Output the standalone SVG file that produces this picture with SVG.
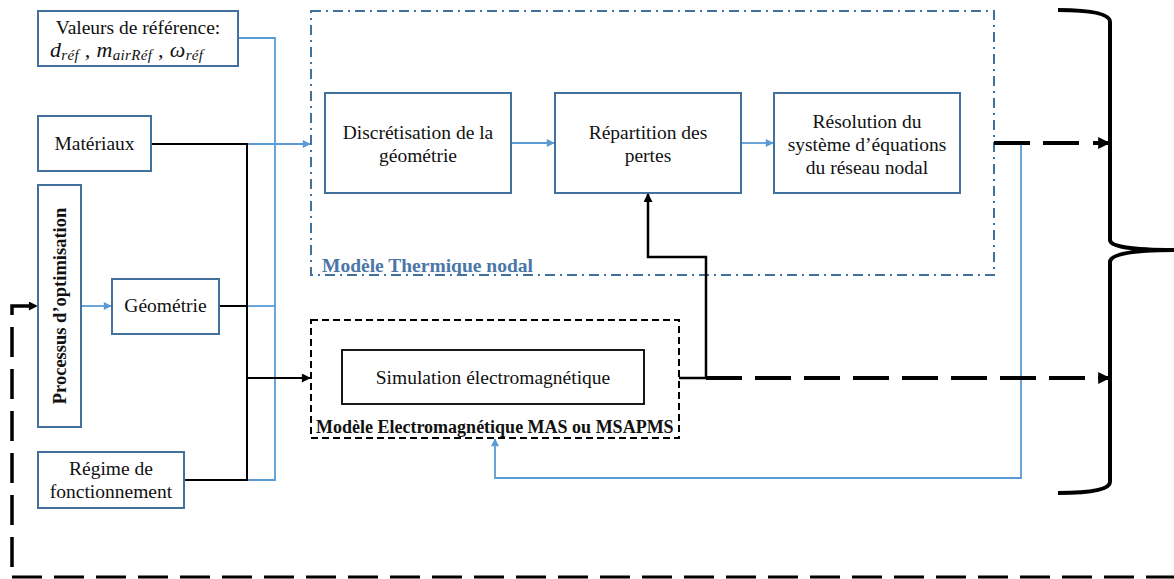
<svg xmlns="http://www.w3.org/2000/svg" width="1174" height="579" viewBox="0 0 1174 579">
<defs>
<style>
.box{fill:#fff;stroke:#41719c;stroke-width:2}
.t{font-family:"Liberation Serif","Times New Roman",serif;font-size:19.5px;fill:#111;text-anchor:middle}
.b{font-weight:bold}
.m{font-family:"Liberation Serif",serif;font-style:italic;font-size:22px;fill:#111}
.s{font-size:15px}
.blue{fill:none;stroke:#5b9bd5;stroke-width:1.8}
.blk{fill:none;stroke:#000;stroke-width:2}
.thick{fill:none;stroke:#000}
</style>
<marker id="ab" viewBox="0 0 10 10" refX="9" refY="5" markerWidth="9" markerHeight="8" orient="auto" markerUnits="userSpaceOnUse"><path d="M0,0L10,5L0,10z" fill="#5b9bd5"/></marker>
<marker id="ak" viewBox="0 0 10 10" refX="9" refY="5" markerWidth="10" markerHeight="9" orient="auto" markerUnits="userSpaceOnUse"><path d="M0,0L10,5L0,10z" fill="#000"/></marker>
<marker id="akt" viewBox="0 0 10 10" refX="9" refY="5" markerWidth="14" markerHeight="12" orient="auto" markerUnits="userSpaceOnUse"><path d="M0,0L10,5L0,10z" fill="#000"/></marker>
</defs>
<rect width="1174" height="579" fill="#fff"/>

<g id="groups">
<rect id="thermique" x="311" y="11" width="683" height="264" fill="none" stroke="#41719c" stroke-width="2" stroke-dasharray="10 5 2 5"/>
<text class="t b" x="322" y="272" style="text-anchor:start;fill:#4a76a8">Modèle Thermique nodal</text>
<rect id="electromag" x="311" y="320" width="368" height="118" fill="none" stroke="#000" stroke-width="2" stroke-dasharray="7 4"/>
<text class="t b" x="316" y="433" style="text-anchor:start;font-size:18px">Modèle Electromagnétique MAS ou MSAPMS</text>
</g>

<g id="connectors">
<path class="blue" d="M238,38H275V480H247"/>
<path class="blue" d="M247,306H275"/>
<path class="blue" d="M247,144H310" marker-end="url(#ab)"/>
<path class="blk" d="M151,144H247V480H184"/>
<path class="blk" d="M219,306H247"/>
<path class="blk" d="M247,378H310" marker-end="url(#ak)"/>
<path class="blue" d="M81,306H111" marker-end="url(#ab)"/>
<path class="blue" d="M511,143H554" marker-end="url(#ab)"/>
<path class="blue" d="M741,143H773" marker-end="url(#ab)"/>
<path class="blue" d="M1021,143V478H495V439" marker-end="url(#ab)"/>
<path class="thick" style="stroke-width:2.5" d="M679,378H706V257H648V194" marker-end="url(#ak)"/>
<path class="thick" style="stroke-width:4" d="M994,143H1030"/>
<path class="thick" style="stroke-width:4" stroke-dasharray="36 14" d="M1043,143H1109" marker-end="url(#akt)"/>
<path class="thick" style="stroke-width:4" stroke-dasharray="36 13" d="M706,378H1109" marker-end="url(#akt)"/>
<path class="thick" style="stroke-width:3.5" stroke-dasharray="30 12" d="M12,567V306H37" marker-end="url(#ak)"/>
<path class="thick" style="stroke-width:3" stroke-dasharray="30 12" d="M12,577H1174"/>
<path id="brace" fill="none" stroke="#000" stroke-width="4" d="M1058,10Q1110,10 1110,22V240Q1110,250 1174,250M1174,250Q1110,250 1110,262V482Q1110,493 1058,493"/>
</g>

<g id="valeurs">
<rect class="box" x="38" y="11" width="200" height="55"/>
<text class="t" x="138" y="34">Valeurs de référence:</text>
<text class="m" x="50" y="57" textLength="153" lengthAdjust="spacing">d<tspan class="s" dy="3">réf</tspan><tspan dy="-3"> , m</tspan><tspan class="s" dy="3">airRéf</tspan><tspan dy="-3"> , ω</tspan><tspan class="s" dy="3">réf</tspan></text>
</g>
<g id="materiaux">
<rect class="box" x="38" y="116" width="113" height="55"/>
<text class="t" x="94.5" y="150">Matériaux</text>
</g>
<g id="processus">
<rect class="box" x="38" y="185" width="43" height="242"/>
<text class="t b" style="font-size:18.5px" transform="translate(66,306) rotate(-90)" x="0" y="0">Processus d’optimisation</text>
</g>
<g id="geometrie">
<rect class="box" x="112" y="279" width="107" height="55"/>
<text class="t" x="165.5" y="312">Géométrie</text>
</g>
<g id="regime">
<rect class="box" x="38" y="452" width="146" height="56"/>
<text class="t" x="111" y="475">Régime de</text>
<text class="t" x="111" y="498">fonctionnement</text>
</g>
<g id="discretisation">
<rect class="box" x="325" y="93" width="186" height="100"/>
<text class="t" x="418" y="139">Discrétisation de la</text>
<text class="t" x="418" y="162">géométrie</text>
</g>
<g id="repartition">
<rect class="box" x="555" y="93" width="186" height="100"/>
<text class="t" x="648" y="139">Répartition des</text>
<text class="t" x="648" y="162">pertes</text>
</g>
<g id="resolution">
<rect class="box" x="774" y="93" width="186" height="100"/>
<text class="t" x="867" y="128">Résolution du</text>
<text class="t" x="867" y="151">système d’équations</text>
<text class="t" x="867" y="174">du réseau nodal</text>
</g>
<g id="simulation">
<rect x="342" y="350" width="302" height="54" fill="#fff" stroke="#000" stroke-width="1.8"/>
<text class="t" x="493" y="384">Simulation électromagnétique</text>
</g>
</svg>
